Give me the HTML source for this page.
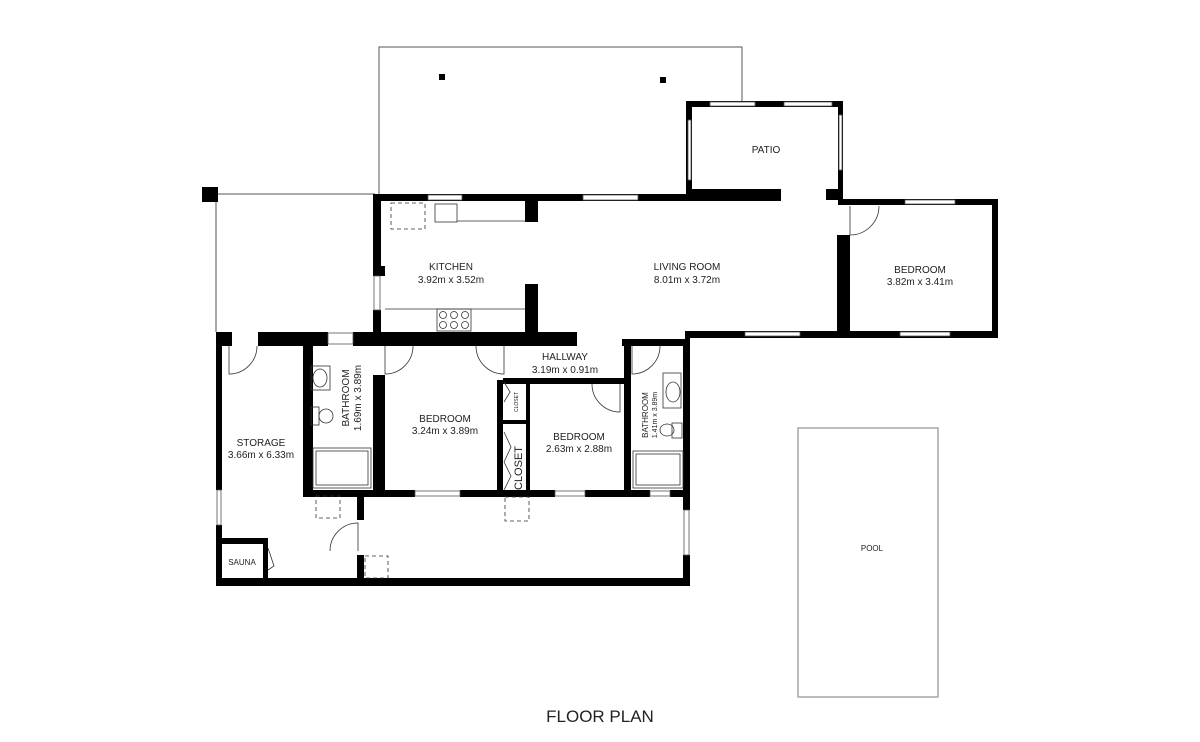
<!DOCTYPE html>
<html><head><meta charset="utf-8"><style>
html,body{margin:0;padding:0;background:#fff;}
svg{display:block;}
text{font-family:"Liberation Sans",sans-serif;fill:#222;}
</style></head><body>
<svg width="1200" height="742" viewBox="0 0 1200 742" xmlns="http://www.w3.org/2000/svg">
<!-- terraces -->
<g fill="none" stroke="#555" stroke-width="1">
<polyline points="379,195 379,47 742,47 742,103"/>
<polyline points="218,194 375,194"/>
<line x1="216" y1="202" x2="216" y2="332"/>
</g>
<rect x="798" y="428" width="140" height="269" fill="none" stroke="#999" stroke-width="1.3"/>
<rect x="439" y="74" width="6" height="6" fill="#000"/>
<rect x="660" y="77" width="6" height="6" fill="#000"/>
<rect x="202" y="187" width="16" height="15" fill="#000"/>

<g fill="#000">
<!-- patio -->
<rect x="686" y="101" width="156" height="6"/>
<rect x="686" y="101" width="6" height="95"/>
<rect x="838" y="101" width="5" height="99"/>
<rect x="687" y="189" width="94" height="12"/>
<rect x="826" y="189" width="16" height="11"/>
<!-- top wall kitchen/living -->
<rect x="373" y="194" width="314" height="7"/>
<!-- right bedroom -->
<rect x="838" y="199" width="160" height="6"/>
<rect x="992" y="199" width="6" height="138"/>
<rect x="685" y="331" width="313" height="7"/>
<rect x="837" y="235" width="13" height="100"/>
<rect x="685" y="331" width="5" height="30"/>
<!-- kitchen left -->
<rect x="373" y="194" width="8" height="82"/>
<rect x="373" y="266" width="12" height="10"/>
<rect x="373" y="310" width="8" height="35"/>
<!-- kitchen/living partition -->
<rect x="525" y="200" width="13" height="22"/>
<rect x="525" y="284" width="13" height="55"/>
<!-- middle wall row -->
<rect x="216" y="332" width="16" height="14"/>
<rect x="258" y="332" width="70" height="14"/>
<rect x="353" y="332" width="224" height="14"/>
<rect x="622" y="339" width="68" height="7"/>
<!-- storage -->
<rect x="216" y="332" width="6" height="158"/>
<rect x="216" y="525" width="6" height="60"/>
<rect x="216" y="578" width="474" height="8"/>
<rect x="216" y="538" width="51" height="6"/>
<rect x="263" y="538" width="5" height="45"/>
<!-- bathroom 1 -->
<rect x="303" y="340" width="10" height="155"/>
<rect x="373" y="375" width="12" height="118"/>
<!-- bedroom row bottom -->
<rect x="303" y="490" width="112" height="7"/>
<rect x="460" y="490" width="95" height="7"/>
<rect x="585" y="490" width="65" height="7"/>
<rect x="670" y="490" width="20" height="7"/>
<!-- bedroom1 / closet / bedroom2 -->
<rect x="497" y="380" width="6" height="112"/>
<rect x="503" y="378" width="125" height="6"/>
<rect x="526" y="380" width="4" height="112"/>
<rect x="503" y="420" width="23" height="4"/>
<!-- bathroom 2 -->
<rect x="624" y="345" width="7" height="147"/>
<rect x="683" y="340" width="7" height="170"/>
<rect x="683" y="555" width="7" height="30"/>
<!-- lower room -->
<rect x="357" y="495" width="7" height="25"/>
<rect x="357" y="555" width="7" height="30"/>
</g>

<!-- windows -->
<g fill="#fff" stroke="#555" stroke-width="0.8">
<rect x="428" y="195" width="34" height="5"/>
<rect x="583" y="195" width="55" height="5"/>
<rect x="710" y="102" width="45" height="4"/>
<rect x="784" y="102" width="48" height="4"/>
<rect x="688" y="120" width="3" height="60"/>
<rect x="839" y="115" width="3" height="55"/>
<rect x="905" y="200" width="50" height="4"/>
<rect x="900" y="332" width="50" height="4"/>
<rect x="745" y="332" width="55" height="4"/>
<rect x="374" y="276" width="6" height="34"/>
<rect x="328" y="333" width="25" height="11"/>
<rect x="415" y="491" width="45" height="5"/>
<rect x="555" y="491" width="30" height="5"/>
<rect x="650" y="491" width="20" height="5"/>
<rect x="217" y="490" width="4" height="35"/>
<rect x="684" y="510" width="5" height="45"/>
</g>

<!-- fixtures -->
<g fill="none" stroke="#333" stroke-width="0.8">
<rect x="391" y="203" width="34" height="26" stroke-dasharray="4,3"/>
<rect x="435" y="204" width="22" height="18"/>
<line x1="457" y1="221" x2="525" y2="221"/>
<line x1="385" y1="309" x2="525" y2="309"/>
<rect x="437" y="309" width="34" height="22"/>
<circle cx="443" cy="315" r="3.5"/><circle cx="454" cy="315" r="3.5"/><circle cx="465" cy="315" r="3.5"/>
<circle cx="443" cy="325" r="3.5"/><circle cx="454" cy="325" r="3.5"/><circle cx="465" cy="325" r="3.5"/>
<rect x="311" y="366" width="19" height="24"/>
<ellipse cx="320" cy="378" rx="7" ry="9"/>
<rect x="311" y="407" width="8" height="18"/><ellipse cx="326" cy="416" rx="7" ry="7"/>
<rect x="313" y="448" width="58" height="40"/><rect x="316" y="451" width="52" height="34"/>
<rect x="663" y="373" width="18" height="35"/><ellipse cx="673" cy="392" rx="7" ry="10"/>
<rect x="672" y="423" width="10" height="15"/><ellipse cx="667" cy="430" rx="7" ry="6"/>
<rect x="633" y="451" width="50" height="37"/><rect x="636" y="454" width="44" height="31"/>
<rect x="316" y="496" width="24" height="22" stroke-dasharray="4,3"/>
<rect x="505" y="497" width="24" height="24" stroke-dasharray="4,3"/>
<rect x="365" y="556" width="23" height="22" stroke-dasharray="4,3"/>
<!-- doors -->
<path d="M229 346 L229 374 A28 28 0 0 0 257 346"/>
<path d="M385 346 L385 374 A28 28 0 0 0 413 346"/>
<path d="M476 346 A28 28 0 0 0 504 374 L504 346"/>
<path d="M632 346 L632 374 A28 28 0 0 0 660 346"/>
<path d="M620 384 L620 412 A28 28 0 0 1 592 384"/>
<path d="M330 551 A28 28 0 0 1 358 523 L358 551"/>
<path d="M850 206 L850 235 A29 29 0 0 0 879 206"/>
<path d="M268 548 L274 566 L268 570"/>
<path d="M504 382 L510 392 L504 402 M504 432 L511 447 L504 462 M504 462 L511 476 L504 490"/>
</g>

<g font-size="10" text-anchor="middle">
<text x="451" y="270">KITCHEN</text><text x="451" y="283">3.92m x 3.52m</text>
<text x="687" y="270">LIVING ROOM</text><text x="687" y="283">8.01m x 3.72m</text>
<text x="766" y="153">PATIO</text>
<text x="920" y="273">BEDROOM</text><text x="920" y="285">3.82m x 3.41m</text>
<text x="565" y="360">HALLWAY</text><text x="565" y="373">3.19m x 0.91m</text>
<text x="445" y="422">BEDROOM</text><text x="445" y="434">3.24m x 3.89m</text>
<text x="579" y="440">BEDROOM</text><text x="579" y="452">2.63m x 2.88m</text>
<text x="261" y="446">STORAGE</text><text x="261" y="458">3.66m x 6.33m</text>
<text x="242" y="565" font-size="8">SAUNA</text>
<text x="872" y="551" font-size="8">POOL</text>
<text transform="translate(349,398) rotate(-90)">BATHROOM</text>
<text transform="translate(361,398) rotate(-90)">1.69m x 3.89m</text>
<text transform="translate(522,468) rotate(-90)" font-size="11">CLOSET</text>
<text transform="translate(518,402) rotate(-90)" font-size="5">CLOSET</text>
<text transform="translate(648,415) rotate(-90)" font-size="8">BATHROOM</text>
<text transform="translate(657,415) rotate(-90)" font-size="7">1.41m x 3.89m</text>
<text x="600" y="722" font-size="17">FLOOR PLAN</text>
</g>
</svg>
</body></html>
